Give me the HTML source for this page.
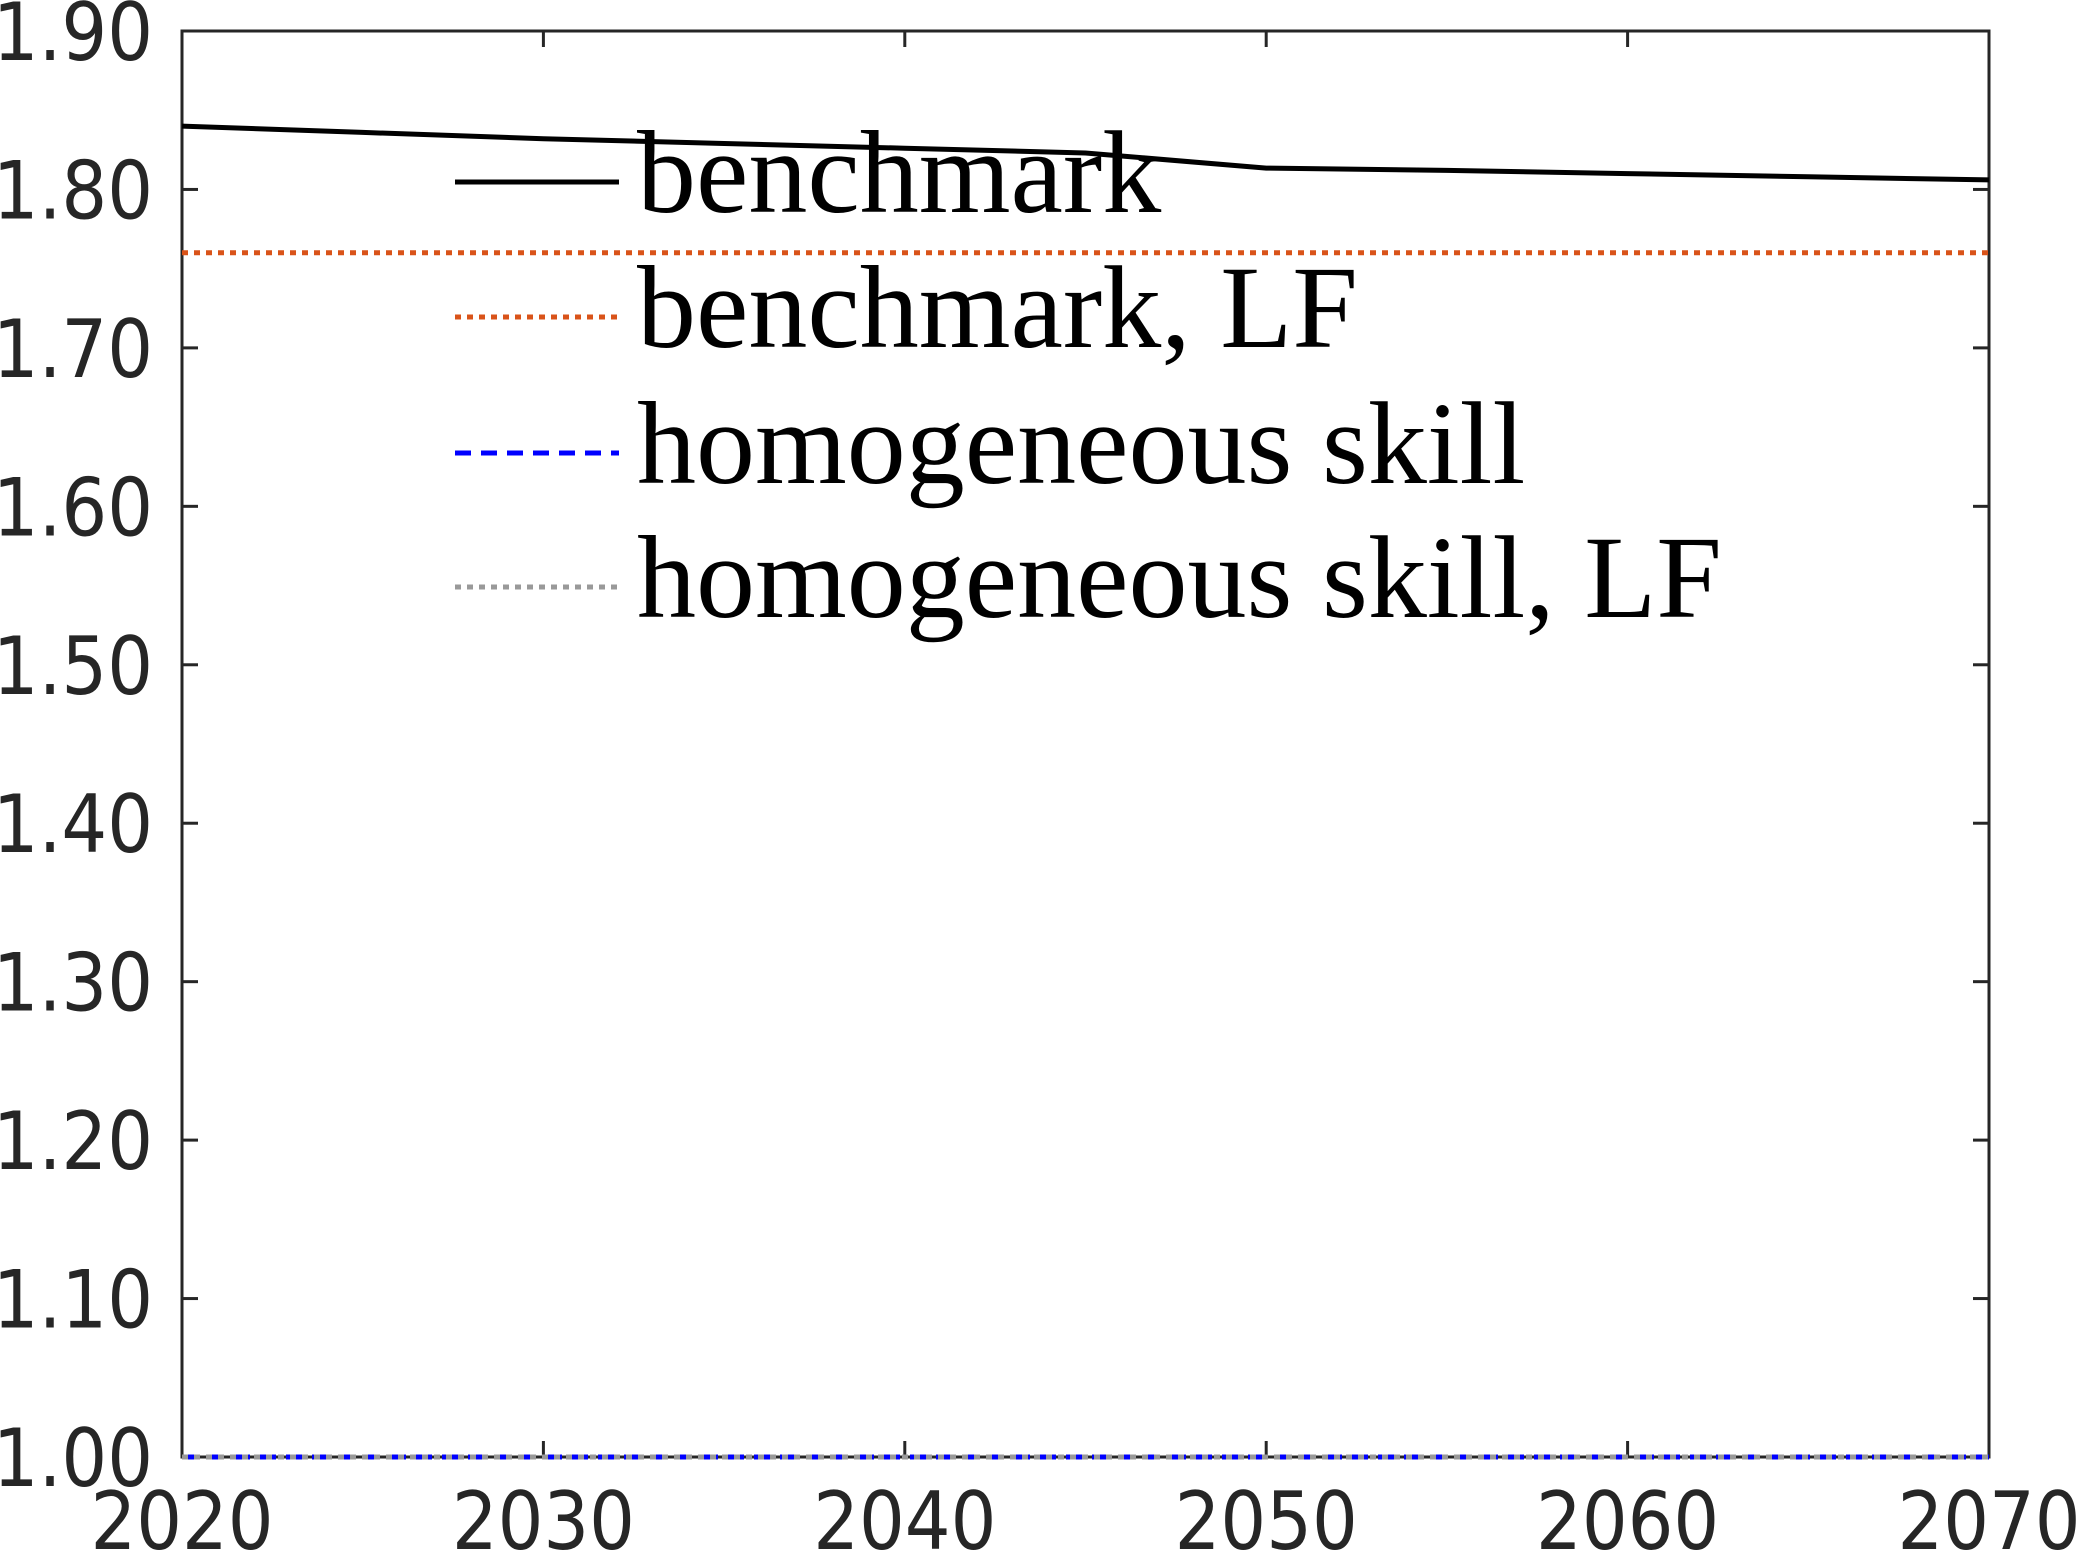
<!DOCTYPE html>
<html><head><meta charset="utf-8"><style>
html,body{margin:0;padding:0;background:#fff;}
svg{display:block;}
.tick{font-family:"DejaVu Sans Condensed","DejaVu Sans","Liberation Sans",sans-serif;font-stretch:condensed;font-size:80px;fill:#262626;}
.leg{font-family:"Liberation Serif",serif;font-size:118px;fill:#000;}
</style></head><body>
<svg id="chart" width="2079" height="1554" viewBox="0 0 2079 1554">
<g id="axes"></g><g id="series"></g><g id="legend"></g>
</svg>
<script>
const years = [2020, 2025, 2030, 2035, 2040, 2045, 2050, 2055, 2060, 2065, 2070];
const benchmark = [1.840, 1.836, 1.832, 1.829, 1.826, 1.823, 1.8135, 1.812, 1.810, 1.808, 1.806];
const benchmarkLF = [1.76, 1.76, 1.76, 1.76, 1.76, 1.76, 1.76, 1.76, 1.76, 1.76, 1.76];
const homog = [1.0, 1.0, 1.0, 1.0, 1.0, 1.0, 1.0, 1.0, 1.0, 1.0, 1.0];
const homogLF = [1.0, 1.0, 1.0, 1.0, 1.0, 1.0, 1.0, 1.0, 1.0, 1.0, 1.0];
const xTicks = [2020, 2030, 2040, 2050, 2060, 2070];
const yTicks = [1.0, 1.1, 1.2, 1.3, 1.4, 1.5, 1.6, 1.7, 1.8, 1.9];
const legendLabels = ["benchmark", "benchmark, LF", "homogeneous skill", "homogeneous skill, LF"];

const L=182,R=1989,T=31,B=1457;
const X=v=>L+(v-2020)/(2070-2020)*(R-L);
const Y=v=>B-(v-1.0)/(1.9-1.0)*(B-T);
const NS="http://www.w3.org/2000/svg";
function mk(tag,attrs,parent){const e=document.createElementNS(NS,tag);for(const k in attrs)e.setAttribute(k,attrs[k]);parent.appendChild(e);return e;}
const axes=document.getElementById('axes'),series=document.getElementById('series'),legend=document.getElementById('legend');

const frame=mk('rect',{x:L,y:T,width:R-L,height:B-T,fill:'none',stroke:'#262626','stroke-width':3},axes);


xTicks.forEach(t=>{
  const x=X(t);
  mk('line',{x1:x,x2:x,y1:B,y2:B-16,stroke:'#262626','stroke-width':3},axes);
  mk('line',{x1:x,x2:x,y1:T,y2:T+16,stroke:'#262626','stroke-width':3},axes);
  const tx=mk('text',{x:x,y:1549,'text-anchor':'middle',class:'tick'},axes);
  tx.textContent=t;
  
  
});
yTicks.forEach(t=>{
  const y=Y(t);
  mk('line',{x1:L,x2:L+16,y1:y,y2:y,stroke:'#262626','stroke-width':3},axes);
  mk('line',{x1:R,x2:R-16,y1:y,y2:y,stroke:'#262626','stroke-width':3},axes);
  const tx=mk('text',{x:153,y:y+29,'text-anchor':'end',class:'tick'},axes);
  tx.textContent=t.toFixed(2);
  
  
});
function line(vals,stroke,dash,w,name){
  const d=vals.map((v,i)=>(i?'L':'M')+X(years[i]).toFixed(1)+','+Y(v).toFixed(1)).join(' ');
  const p=mk('path',{d:d,fill:'none',stroke:stroke,'stroke-width':w,'stroke-dasharray':dash},series);
  
  
}
line(homog,'#0000ff','16 10',5,'series-homogeneous-skill');
line(homogLF,'#999999','6 6',5,'series-homogeneous-skill-lf');
line(benchmarkLF,'#d95319','6 6',5,'series-benchmark-lf');
line(benchmark,'#000000','none',5,'series-benchmark');

const styles=[['#000','none'],['#d95319','6 6'],['#0000ff','16 10'],['#999999','6 6']];
const rows=[182,317,453,587];
legendLabels.forEach((lab,i)=>{
  const g=mk('g',{},legend);
  
  
  mk('line',{x1:455,x2:619,y1:rows[i],y2:rows[i],stroke:styles[i][0],'stroke-width':5,'stroke-dasharray':styles[i][1]},g);
  const t=mk('text',{x:637,y:rows[i]+30,class:'leg'},g);
  t.textContent=lab;
});
</script>
</body></html>
